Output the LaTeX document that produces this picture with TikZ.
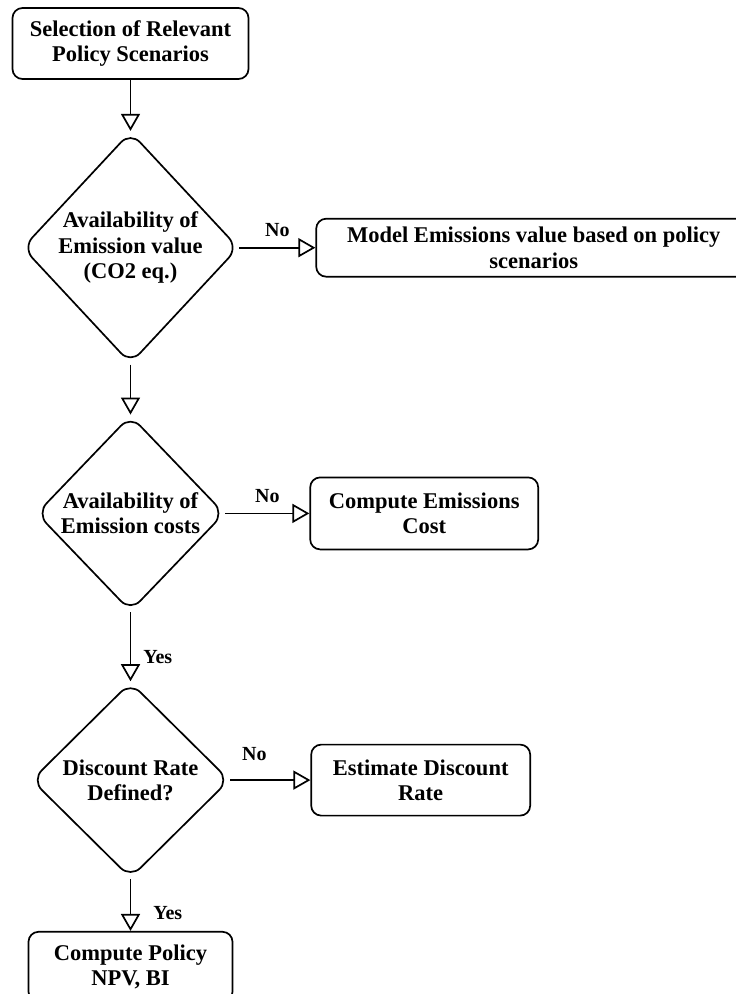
\documentclass[tikz,border=0pt]{standalone}
\usepackage{fontspec}
\setmainfont{Liberation Serif}
\usetikzlibrary{arrows.meta,positioning,shapes.geometric}

\begin{document}
\begin{tikzpicture}[
  x=1pt, y=-1pt,
  font=\bfseries\fontsize{22.5}{25.5}\selectfont,
  line width=1.7pt,
  box/.style={draw, rounded corners=10pt, align=center, inner sep=2pt},
  decision/.style={draw, diamond, rounded corners=14pt, align=center, inner sep=0pt},
  lbl/.style={font=\bfseries\fontsize{20}{22}\selectfont, inner sep=2pt},
  arrow/.style={-{Triangle[open, length=17pt, width=19pt]}}
]
\useasboundingbox (0,0) rectangle (736,994);
\clip (0,0) rectangle (736,994);

% Main column
\node[box, minimum width=236pt, minimum height=71pt] (select) at (130.5,43.5) {Selection of Relevant\\Policy Scenarios};
\node[decision, minimum width=205pt, minimum height=232pt, below=51pt of select] (emis) {Availability of\\Emission value\\(CO2 eq.)};
\node[decision, minimum width=188pt, minimum height=196pt, below=50pt of emis] (cost) {Availability of\\Emission costs};
\node[decision, minimum width=198pt, minimum height=196pt, below=69pt of cost] (rate) {Discount Rate\\Defined?};
\node[box, minimum width=204pt, minimum height=70pt, below=52pt of rate] (npv) {Compute Policy\\NPV, BI};

% Side branches
\node[box, minimum width=435pt, minimum height=58pt, right=76pt of emis] (model) {Model Emissions value based on policy\\scenarios};
\node[box, minimum width=228pt, minimum height=72pt, right=84pt of cost] (compcost) {Compute Emissions\\Cost};
\node[box, minimum width=219pt, minimum height=71pt, right=80pt of rate] (estrate) {Estimate Discount\\Rate};

% Connections
\draw[arrow] (select) -- (emis);
\draw[arrow] (emis) -- (cost);
\draw[arrow] (cost) -- node[lbl, pos=0.65, right=10pt] {Yes} (rate);
\draw[arrow] (rate) -- node[lbl, pos=0.65, right=20pt] {Yes} (npv);

\draw[arrow] (emis) -- node[lbl, above=8pt] {No} (model);
\draw[arrow] (cost) -- node[lbl, above=8pt] {No} (compcost);
\draw[arrow] (rate) -- node[lbl, pos=0.3, above=17pt] {No} (estrate);

\end{tikzpicture}
\end{document}
